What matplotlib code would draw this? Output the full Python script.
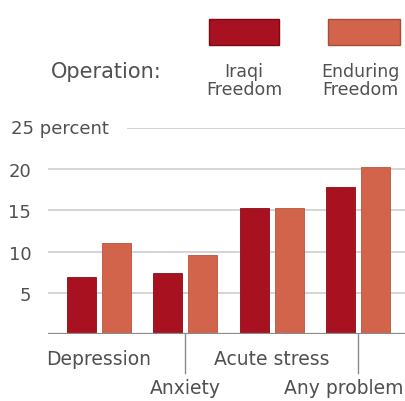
import matplotlib
matplotlib.use("Agg")
import matplotlib.pyplot as plt
import matplotlib.transforms as mtransforms
from matplotlib.patches import Rectangle
from matplotlib.lines import Line2D
import numpy as np

# ── Data ──────────────────────────────────────────────────────────────────────
categories = ['Depression', 'Anxiety', 'Acute stress', 'Any problem']
iraqi_freedom = [6.9, 7.4, 15.3, 17.9]
enduring_freedom = [11.0, 9.6, 15.3, 20.3]
yticks = [5, 10, 15, 20]
series_labels = ['Iraqi\nFreedom', 'Enduring\nFreedom']

c_if = '#a8111f'
c_oef = '#d2644b'
txt = '#505050'
grid_c = '#d4d4d4'
font = 'DejaVu Sans'

fig = plt.figure(figsize=(4.05, 4.02), dpi=100)
ax = fig.add_axes([0.1185, 0.1667, 0.8815, 0.5124])

x = np.arange(len(categories))
w = 0.336
off = 0.203
ax.bar(x - off, iraqi_freedom, w, color=c_if, edgecolor='#8a0c18', lw=0.6, zorder=3)
ax.bar(x + off, enduring_freedom, w, color=c_oef, edgecolor='#b9543e', lw=0.6, zorder=3)

ax.set_xlim(-0.591, 3.546)
ax.set_ylim(0, 25)

# gridlines
for yv in yticks:
    ax.axhline(yv, color=grid_c, lw=1.4, zorder=1)
ax.axhline(25, xmin=0.224, color=grid_c, lw=1.4, zorder=1)
ax.axhline(0, color='#8a8a8a', lw=1.6, zorder=4)

for s in ax.spines.values():
    s.set_visible(False)
ax.set_xticks([])
ax.set_yticks(yticks)
ax.set_yticklabels([str(v) for v in yticks], fontsize=13, color=txt, family=font)
ax.tick_params(axis='y', length=0, pad=12)

# "25 percent" label
fig.text(11 / 405, 1 - 129 / 402, '25 percent', fontsize=13, color=txt,
         family=font, ha='left', va='center')

# category labels
tr = mtransforms.blended_transform_factory(ax.transData, fig.transFigure)
for i, cat in enumerate(categories):
    if i % 2 == 0:
        ax.text(x[i], 1 - 360 / 402, cat, transform=tr, ha='center', va='center',
                fontsize=13.5, color=txt, family=font, clip_on=False)
    else:
        ax.add_line(Line2D([x[i], x[i]], [1 - 335 / 402, 1 - 374 / 402],
                           transform=tr, color='#8a8a8a', lw=1.0, clip_on=False))
ax.text(x[1], 1 - 389 / 402, categories[1], transform=tr, ha='center', va='center',
        fontsize=13.5, color=txt, family=font, clip_on=False)
fig.text(284 / 405, 1 - 389 / 402, categories[3], ha='left', va='center',
         fontsize=13.5, color=txt, family=font)

# legend
fig.text(106 / 405, 1 - 72 / 402, 'Operation:', fontsize=15, color=txt,
         family=font, ha='center', va='center')
for xl, wd, col, ec, lab, cx in [(209, 70, c_if, '#7a0a15', series_labels[0], 244),
                                 (328, 72, c_oef, '#a84c38', series_labels[1], 360)]:
    fig.add_artist(Rectangle((xl / 405, 1 - 46 / 402), wd / 405, 26 / 402,
                             transform=fig.transFigure, facecolor=col,
                             edgecolor=ec, lw=1.0))
    fig.text(cx / 405, 1 - 81 / 402, lab, fontsize=12.5, color=txt, family=font,
             ha='center', va='center', linespacing=1.0)

fig.savefig('out.png', dpi=100, facecolor='white')
